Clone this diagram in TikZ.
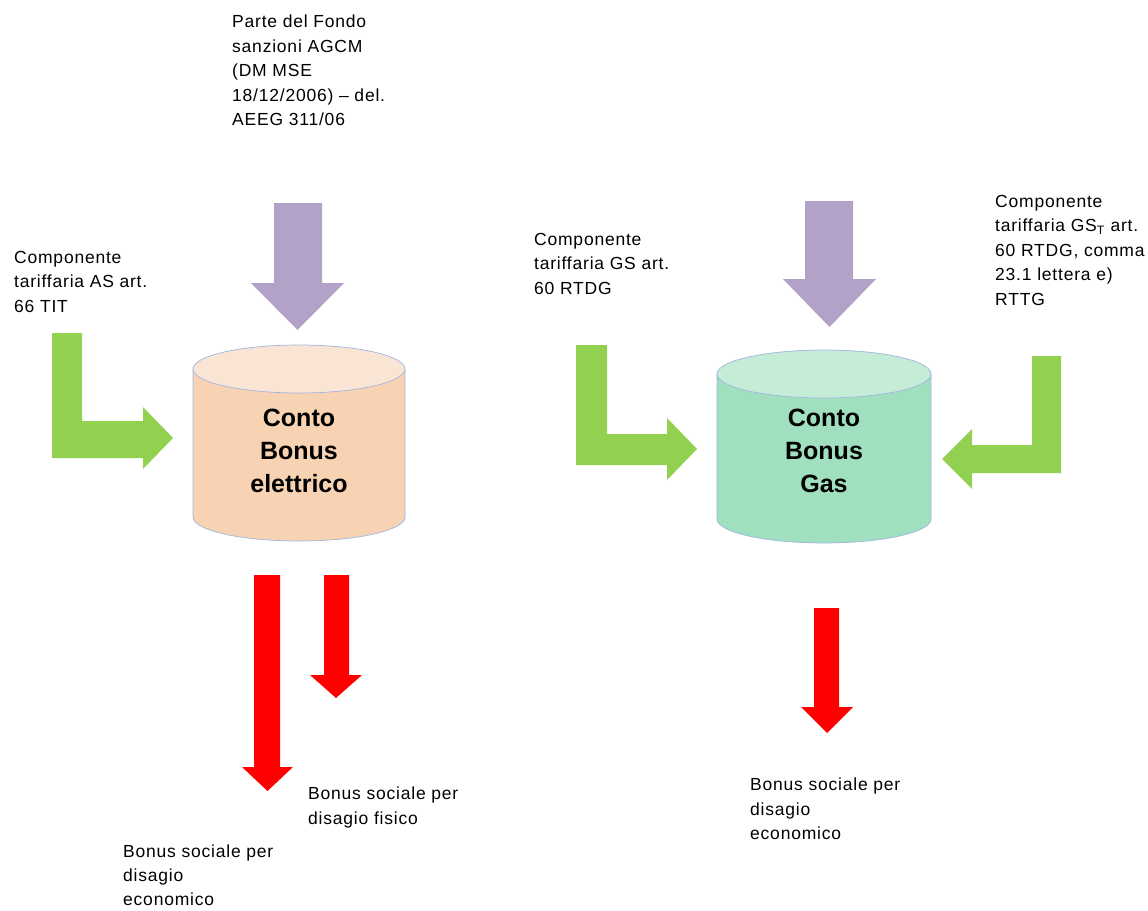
\documentclass[tikz,border=0pt]{standalone}
\usepackage{fontspec}
\setmainfont{Liberation Sans}
\newfontfamily\lblfont[LetterSpace=4.5]{Liberation Sans}
\definecolor{arrowpurple}{RGB}{179,162,199}
\definecolor{arrowgreen}{RGB}{146,208,80}
\definecolor{arrowred}{RGB}{255,0,0}
\definecolor{elecbody}{RGB}{247,211,180}
\definecolor{electop}{RGB}{250,228,212}
\definecolor{gasbody}{RGB}{160,224,190}
\definecolor{gastop}{RGB}{197,236,215}
\definecolor{cylline}{RGB}{160,182,224}
% block arrow pointing down: style, shaft left, shaft right, top, head start, head left, head right, tip y
\newcommand{\blockdown}[8]{%
  \fill[#1] (#2,#4) -- (#3,#4) -- (#3,#5) -- (#7,#5) -- ({(#6+#7)/2},#8) -- (#6,#5) -- (#2,#5) -- cycle;}
\begin{document}
\begin{tikzpicture}[x=1pt,y=-1pt,
  lbl/.style={anchor=north west, inner sep=0pt, align=left, font=\lblfont\fontsize{17.5}{24.5}\selectfont},
  cyltxt/.style={anchor=north, inner sep=0pt, align=center, font=\bfseries\fontsize{25}{33}\selectfont},
  cylside/.style={draw=cylline, line width=0.7pt},
  greenarrow/.style={fill=arrowgreen},
  purplearrow/.style={fill=arrowpurple},
  redarrow/.style={fill=arrowred}]
\useasboundingbox (0,0) rectangle (1148,910);
\fill[white] (0,0) rectangle (1148,910);

% ---- cylinders ----
% electric
\filldraw[fill=elecbody, cylside] (193,369) -- (193,517) arc[start angle=180, end angle=360, x radius=106pt, y radius=24pt] -- (405,369) -- cycle;
\filldraw[fill=electop, cylside] (299,369) ellipse [x radius=106pt, y radius=24pt];
% gas
\filldraw[fill=gasbody, cylside] (717,374) -- (717,519) arc[start angle=180, end angle=360, x radius=107pt, y radius=24pt] -- (931,374) -- cycle;
\filldraw[fill=gastop, cylside] (824,374) ellipse [x radius=107pt, y radius=24pt];

\node[cyltxt] (elec) at (299,409) {Conto\\Bonus\\elettrico};
\node[cyltxt] (gas) at (824,409) {Conto\\Bonus\\Gas};

% ---- purple arrows ----
\blockdown{purplearrow}{274}{322}{203}{283}{251}{344}{330}
\blockdown{purplearrow}{805}{853}{201}{279}{783}{876}{327}

% ---- green L arrows ----
\fill[greenarrow] (52,333) -- (82,333) -- (82,421) -- (143,421) -- (143,407) -- (173,438) -- (143,469) -- (143,458) -- (52,458) -- cycle;
\fill[greenarrow] (576,345) -- (607,345) -- (607,434) -- (667,434) -- (667,418) -- (697,449) -- (667,480) -- (667,465) -- (576,465) -- cycle;
\fill[greenarrow] (1061,356) -- (1032,356) -- (1032,445) -- (972,445) -- (972,429) -- (942,459) -- (972,489) -- (972,473) -- (1061,473) -- cycle;

% ---- red arrows ----
\blockdown{redarrow}{254}{280}{575}{767}{242}{293}{791}
\blockdown{redarrow}{324}{349}{575}{675}{310}{362}{698}
\blockdown{redarrow}{814}{839}{608}{707}{801}{853}{733}

% ---- labels ----
\node[lbl] (fondo) at (232,15) {Parte del Fondo\\sanzioni AGCM\\(DM MSE\\18/12/2006) \textendash{} del.\\AEEG 311/06};
\node[lbl] (as) at (14,251) {Componente\\tariffaria AS art.\\66 TIT};
\node[lbl] (gs) at (534,233) {Componente\\tariffaria GS art.\\60 RTDG};
\node[lbl] (gst) at (995,195) {Componente\\tariffaria GS\textsubscript{T} art.\\60 RTDG, comma\\23.1 lettera e)\\RTTG};
\node[lbl] (fisico) at (308,787) {Bonus sociale per\\disagio fisico};
\node[lbl, font=\lblfont\fontsize{17.5}{24}\selectfont] (econel) at (123,845) {Bonus sociale per\\disagio\\economico};
\node[lbl] (econgas) at (750,778) {Bonus sociale per\\disagio\\economico};
\end{tikzpicture}
\end{document}
